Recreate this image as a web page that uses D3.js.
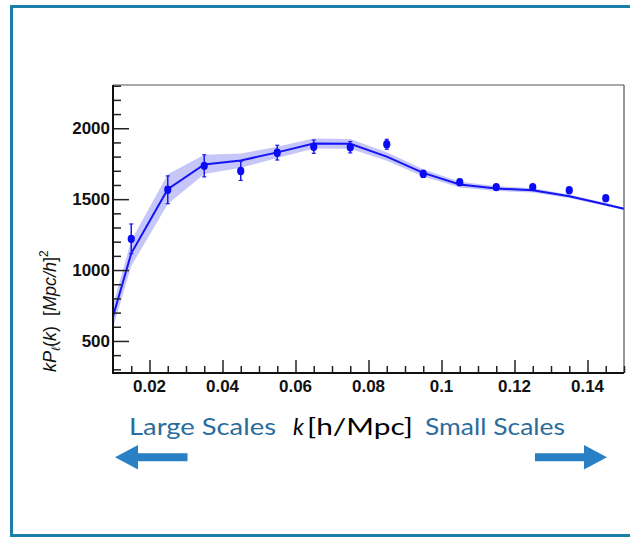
<!DOCTYPE html>
<html>
<head>
<meta charset="utf-8">
<script src="https://cdn.jsdelivr.net/npm/d3@7"></script>
<style>
  body { margin: 0; background: #fff; }
  svg { display: block; }
</style>
</head>
<body>
<svg id="chart" width="630" height="540"></svg>
<script>
/* DATA: MEASURED POINTS (BIN CENTRES) */
var kData = [0.015, 0.025, 0.035, 0.045, 0.055, 0.065, 0.075, 0.085, 0.095, 0.105, 0.115, 0.125, 0.135, 0.145];
var pData = [1220, 1566, 1735, 1699, 1828, 1870, 1866, 1887, 1678, 1620, 1585, 1585, 1563, 1507];
var pErr  = [105, 98, 78, 67, 52, 47, 40, 35, 25, 20, 14, 12, 10, 8];

/* DATA: MODEL CURVE AND ITS BAND */
var kModel = [0.01, 0.015, 0.025, 0.035, 0.045, 0.055, 0.065, 0.075, 0.085, 0.095, 0.105, 0.115, 0.125, 0.135, 0.145, 0.15];
var pModel = [673, 1118, 1570, 1745, 1772, 1830, 1893, 1890, 1800, 1685, 1603, 1575, 1562, 1520, 1462, 1432];
var bandHalf = [80, 90, 105, 68, 50, 40, 35, 35, 30, 25, 20, 18, 15, 12, 10, 8];

/* TICKS */
var xTickLabels = [0.02, 0.04, 0.06, 0.08, 0.1, 0.12, 0.14];
var yTickLabels = [500, 1000, 1500, 2000];

var svg = d3.select("#chart");
var pLeft = 113, pRight = 624, pTop = 85, pBottom = 373;

/* OUTER FRAME (RIGHT SIDE RUNS OFF THE PAGE) */
svg.append("rect")
  .attr("x", 11.5).attr("y", 6.5)
  .attr("width", 640).attr("height", 529)
  .attr("fill", "none")
  .attr("stroke", "#1a7fa8")
  .attr("stroke-width", 3);

var x = d3.scaleLinear().domain([0.01, 0.15]).range([pLeft, pRight]);
var y = d3.scaleLinear().domain([274, 2305]).range([pBottom, pTop]);

var g = svg.append("g");

/* BAND */
var area = d3.area()
  .x(function(d, i) { return x(kModel[i]); })
  .y0(function(d, i) { return y(pModel[i] - bandHalf[i]); })
  .y1(function(d, i) { return y(pModel[i] + bandHalf[i]); });
g.append("path")
  .datum(kModel)
  .attr("d", area)
  .attr("fill", "#c6c6f8");

/* MODEL LINE */
var line = d3.line()
  .x(function(d, i) { return x(kModel[i]); })
  .y(function(d, i) { return y(pModel[i]); });
g.append("path")
  .datum(kModel)
  .attr("d", line)
  .attr("fill", "none")
  .attr("stroke", "#1414f5")
  .attr("stroke-width", 2);

/* ERROR BARS */
var pts = g.selectAll(".pt").data(kData).enter().append("g").attr("class", "pt");
pts.append("line")
  .attr("x1", function(d) { return x(d); })
  .attr("x2", function(d) { return x(d); })
  .attr("y1", function(d, i) { return y(pData[i] - pErr[i]); })
  .attr("y2", function(d, i) { return y(pData[i] + pErr[i]); })
  .attr("stroke", "#1a1af0").attr("stroke-width", 1.5);
pts.append("line")
  .attr("x1", function(d) { return x(d) - 2; })
  .attr("x2", function(d) { return x(d) + 2; })
  .attr("y1", function(d, i) { return y(pData[i] + pErr[i]); })
  .attr("y2", function(d, i) { return y(pData[i] + pErr[i]); })
  .attr("stroke", "#1a1af0").attr("stroke-width", 1.2);
pts.append("line")
  .attr("x1", function(d) { return x(d) - 2; })
  .attr("x2", function(d) { return x(d) + 2; })
  .attr("y1", function(d, i) { return y(pData[i] - pErr[i]); })
  .attr("y2", function(d, i) { return y(pData[i] - pErr[i]); })
  .attr("stroke", "#1a1af0").attr("stroke-width", 1.2);
pts.append("ellipse")
  .attr("cx", function(d) { return x(d); })
  .attr("cy", function(d, i) { return y(pData[i]); })
  .attr("rx", 3.6).attr("ry", 4.2)
  .attr("fill", "#0a0af5");

/* PLOT FRAME */
svg.append("line").attr("x1", pLeft).attr("x2", pRight).attr("y1", pTop).attr("y2", pTop)
  .attr("stroke", "#555").attr("stroke-width", 1.2);
svg.append("line").attr("x1", pRight).attr("x2", pRight).attr("y1", pTop).attr("y2", pBottom)
  .attr("stroke", "#555").attr("stroke-width", 1.2);

/* Y AXIS WITH INWARD TICKS */
var yMinor = d3.range(300, 2301, 100).filter(function(v) { return v % 500 !== 0; });
var yAxisG = svg.append("g").attr("transform", "translate(" + pLeft + ",0)");
yAxisG.call(d3.axisRight(y).tickValues(yTickLabels).tickSize(16).tickFormat(""));
yAxisG.append("g").call(d3.axisRight(y).tickValues(yMinor).tickSize(8).tickFormat(""));
yAxisG.selectAll(".domain").remove();
yAxisG.selectAll("line").attr("stroke", "#222").attr("stroke-width", 1.5);
svg.append("line").attr("x1", pLeft).attr("x2", pLeft).attr("y1", pTop).attr("y2", pBottom + 1)
  .attr("stroke", "#111").attr("stroke-width", 2);

svg.append("g").selectAll("text").data(yTickLabels).enter().append("text")
  .attr("x", pLeft - 3)
  .attr("y", function(d) { return y(d) + 6; })
  .attr("text-anchor", "end")
  .attr("font-family", "Liberation Sans, Arial, sans-serif")
  .attr("font-weight", "bold")
  .attr("font-size", "17px")
  .attr("fill", "#111")
  .text(function(d) { return d; });

/* X AXIS WITH INWARD TICKS */
var xMinor = d3.range(0.015, 0.1500001, 0.005).filter(function(v) {
  return Math.abs(Math.round(v / 0.02) * 0.02 - v) > 1e-6;
});
var xAxisG = svg.append("g").attr("transform", "translate(0," + pBottom + ")");
xAxisG.call(d3.axisTop(x).tickValues(xTickLabels).tickSize(13).tickFormat(""));
xAxisG.append("g").call(d3.axisTop(x).tickValues(xMinor).tickSize(7).tickFormat(""));
xAxisG.selectAll(".domain").remove();
xAxisG.selectAll("line").attr("stroke", "#222").attr("stroke-width", 1.5);
svg.append("line").attr("x1", pLeft - 1).attr("x2", pRight).attr("y1", pBottom).attr("y2", pBottom)
  .attr("stroke", "#111").attr("stroke-width", 2);

svg.append("g").selectAll("text").data(xTickLabels).enter().append("text")
  .attr("x", function(d) { return x(d); })
  .attr("y", pBottom + 19)
  .attr("text-anchor", "middle")
  .attr("font-family", "Liberation Sans, Arial, sans-serif")
  .attr("font-weight", "bold")
  .attr("font-size", "17px")
  .attr("fill", "#111")
  .text(function(d) { return d; });

/* Y AXIS TITLE */
var yt = svg.append("text")
  .attr("transform", "translate(56,372) rotate(-90)")
  .attr("font-family", "Liberation Sans, Arial, sans-serif")
  .attr("font-size", "18px")
  .attr("fill", "#111");
yt.append("tspan").attr("font-style", "italic").text("kP");
yt.append("tspan").attr("font-style", "italic").attr("font-size", "12px").attr("dy", 4).text("ℓ");
yt.append("tspan").attr("dy", -4).text("(");
yt.append("tspan").attr("font-style", "italic").text("k");
yt.append("tspan").text(")");
yt.append("tspan").attr("dx", 10).text("[");
yt.append("tspan").attr("font-style", "italic").text("Mpc/h");
yt.append("tspan").text("]");
yt.append("tspan").attr("font-size", "12px").attr("dy", -8).text("2");

/* SCALE ANNOTATIONS BELOW */
var bf = "Lato, 'Open Sans', sans-serif";
svg.append("text").attr("x", 129).attr("y", 435)
  .attr("font-family", bf).attr("font-size", "23px").attr("fill", "#2b6c9c")
  .attr("textLength", 147).attr("lengthAdjust", "spacingAndGlyphs")
  .text("Large Scales");
svg.append("text").attr("x", 293).attr("y", 435)
  .attr("font-family", bf).attr("font-size", "23px").attr("font-style", "italic").attr("fill", "#000")
  .text("k");
svg.append("text").attr("x", 307).attr("y", 435)
  .attr("font-family", bf).attr("font-size", "23px").attr("fill", "#000")
  .attr("textLength", 106).attr("lengthAdjust", "spacingAndGlyphs")
  .text("[h/Mpc]");
svg.append("text").attr("x", 425).attr("y", 435)
  .attr("font-family", bf).attr("font-size", "23px").attr("fill", "#2b6c9c")
  .attr("textLength", 140).attr("lengthAdjust", "spacingAndGlyphs")
  .text("Small Scales");

/* ARROWS */
var arrowColor = "#2a80c4";
svg.append("path")
  .attr("d", "M115,457.3 L138,445 L138,453.3 L187.5,453.3 L187.5,461.3 L138,461.3 L138,469.5 Z")
  .attr("fill", arrowColor);
svg.append("path")
  .attr("d", "M607,457.3 L584,445 L584,453.3 L535,453.3 L535,461.3 L584,461.3 L584,469.5 Z")
  .attr("fill", arrowColor);
</script>
</body>
</html>
